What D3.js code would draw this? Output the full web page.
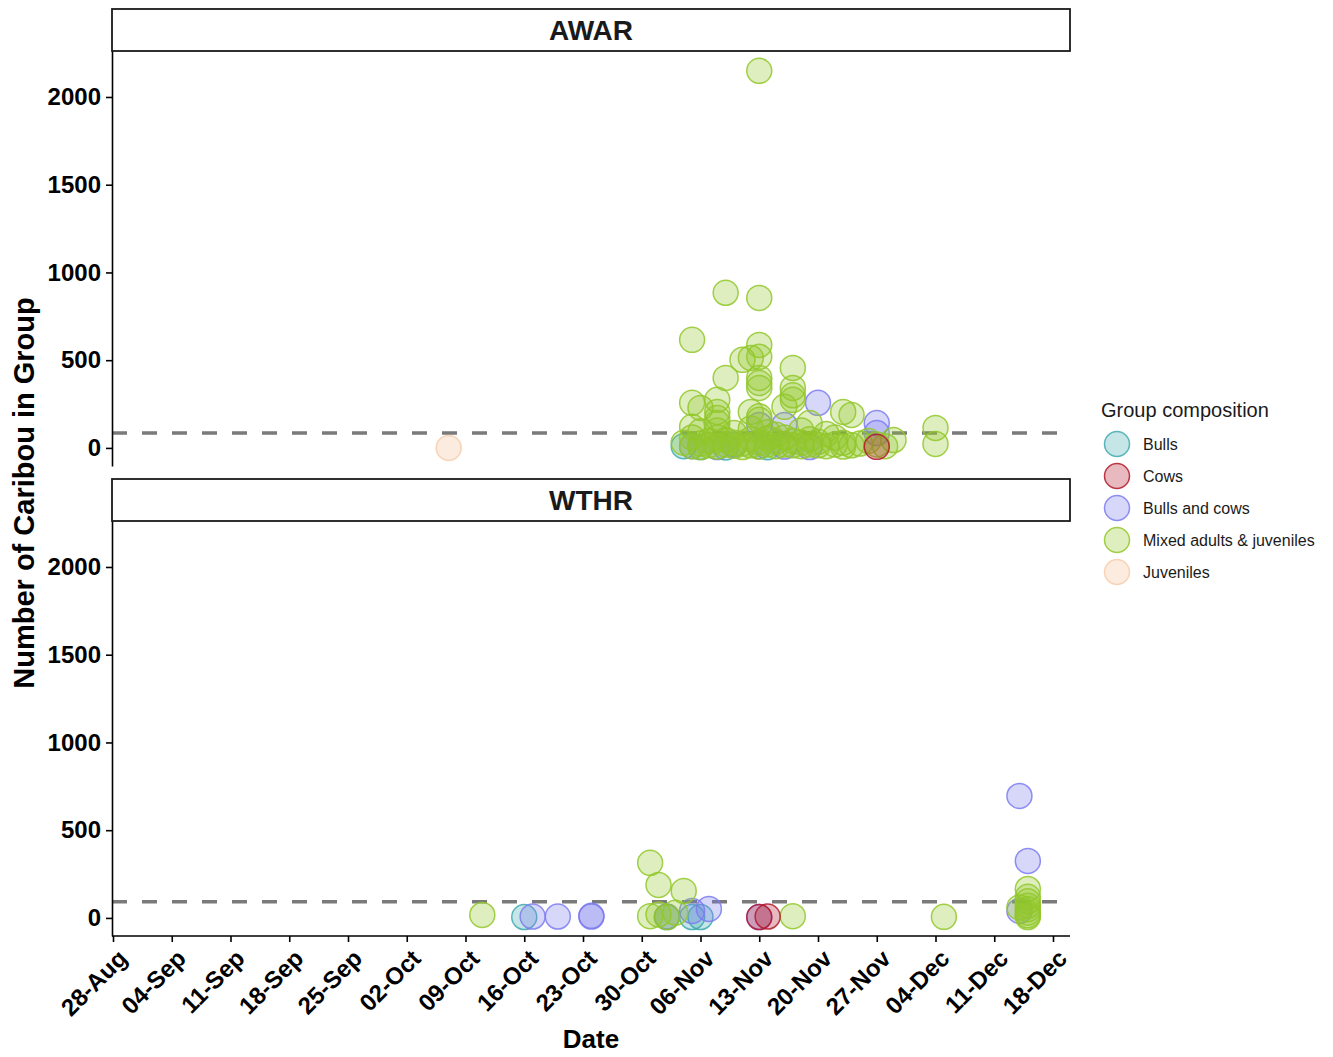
<!DOCTYPE html>
<html>
<head>
<meta charset="utf-8">
<script src="https://cdn.jsdelivr.net/npm/d3@7"></script>
<style>
  body { margin: 0; background: #fff; }
  text { font-family: "Liberation Sans", Arial, sans-serif; }
</style>
</head>
<body>
<div id="wrapper"></div>
<script>
/* global d3 */

// group names + colours (legend order)
const groupNames = ["Bulls", "Cows", "Bulls and cows", "Mixed adults & juveniles", "Juveniles"]
const groupColors = ["#3FA9B0", "#B2182B", "#7B7BF0", "#92C82A", "#F2B27E"]

const panelNames = ["AWAR", "WTHR"]
const thresholds = [85, 92]

const tickDates = ["08-28", "09-04", "09-11", "09-18", "09-25", "10-02", "10-09", "10-16",
  "10-23", "10-30", "11-06", "11-13", "11-20", "11-27", "12-04", "12-11", "12-18"]
const yTicks = [0, 500, 1000, 1500, 2000]

// [date, number of caribou] per group
const awarMixed = [
  ["11-05", 616], ["11-05", 257], ["11-06", 228], ["11-05", 120], ["11-08", 274], ["11-08", 205],
  ["11-08", 170], ["11-08", 142], ["11-09", 884], ["11-09", 399], ["11-11", 502], ["11-12", 513],
  ["11-12", 205], ["11-13", 519], ["11-13", 855], ["11-13", 587], ["11-13", 399], ["11-13", 370],
  ["11-13", 342], ["11-13", 2149], ["11-13", 180], ["11-13", 160], ["11-16", 234], ["11-17", 456],
  ["11-17", 342], ["11-17", 300], ["11-17", 274], ["11-19", 142], ["11-23", 205], ["11-24", 188],
  ["11-29", 45], ["12-04", 114], ["12-04", 23],
  ["11-04", 30], ["11-05", 60], ["11-05", 10], ["11-06", 25], ["11-06", 5], ["11-07", 15],
  ["11-07", 40], ["11-08", 60], ["11-08", 8], ["11-09", 20], ["11-09", 45], ["11-10", 12],
  ["11-10", 30], ["11-11", 5], ["11-11", 25], ["11-12", 15], ["11-12", 50], ["11-13", 30],
  ["11-13", 8], ["11-14", 20], ["11-14", 55], ["11-15", 10], ["11-15", 35], ["11-16", 20],
  ["11-16", 60], ["11-17", 15], ["11-17", 40], ["11-18", 10], ["11-18", 30], ["11-19", 20],
  ["11-19", 50], ["11-20", 15], ["11-20", 35], ["11-21", 10], ["11-22", 20], ["11-23", 30],
  ["11-23", 8], ["11-24", 15], ["11-26", 40], ["11-27", 20], ["11-28", 10],
  ["11-06", 95], ["11-08", 100], ["11-10", 85], ["11-12", 110], ["11-14", 90], ["11-15", 75],
  ["11-18", 100], ["11-21", 80], ["11-22", 60], ["11-25", 25]
]
const awarBulls = [["11-04", 10], ["11-06", 5], ["11-09", 3], ["11-14", 4]]
const awarBullsCows = [
  ["11-20", 257], ["11-27", 142], ["11-27", 85], ["11-13", 131], ["11-16", 131],
  ["11-05", 10], ["11-08", 5], ["11-13", 10], ["11-16", 8], ["11-19", 5], ["11-10", 20]
]
const awarCows = [["11-27", 6]]
const awarJuveniles = [["10-07", 0]]

const wthrMixed = [
  ["10-11", 17], ["10-31", 314], ["11-01", 188], ["11-04", 154], ["10-31", 10], ["11-01", 20],
  ["11-02", 5], ["11-03", 30], ["11-17", 10], ["12-05", 6], ["12-15", 165], ["12-15", 120],
  ["12-15", 95], ["12-15", 70], ["12-15", 50], ["12-15", 30], ["12-15", 15], ["12-15", 5],
  ["12-14", 60]
]
const wthrBulls = [["10-16", 5], ["11-02", 5], ["11-05", 5], ["11-06", 5]]
const wthrBullsCows = [
  ["10-17", 8], ["10-20", 8], ["10-24", 8], ["10-24", 12], ["11-02", 8], ["11-05", 40],
  ["11-07", 51], ["11-13", 5], ["12-14", 695], ["12-15", 325], ["12-14", 40]
]
const wthrCows = [["11-13", 5], ["11-14", 8]]
const wthrJuveniles = []

function drawChart() {
  const parseDay = s => d3.timeParse("%Y-%m-%d")("2021-" + s)

  const panels = [
    [awarBulls, awarCows, awarBullsCows, awarMixed, awarJuveniles],
    [wthrBulls, wthrCows, wthrBullsCows, wthrMixed, wthrJuveniles],
  ]
  // drawing order: bulls / mixed herds underneath, cows on top
  const drawOrder = [0, 2, 3, 4, 1]

  let dimensions = {
    width: 1333,
    height: 1057,
    panelLeft: 112,
    panelRight: 1070,
    stripHeight: 42,
    panelHeight: 415,
    panelTops: [51, 521],
  }

  const wrapper = d3.select("#wrapper")
    .append("svg")
      .attr("width", dimensions.width)
      .attr("height", dimensions.height)

  const xScale = d3.scaleTime()
    .domain([parseDay("08-28"), parseDay("12-18")])
    .range([113, 1053])

  panels.forEach((groups, p) => {
    const top = dimensions.panelTops[p]
    const bottom = top + dimensions.panelHeight
    const yScale = d3.scaleLinear()
      .domain([-103, 2262])
      .range([bottom, top])

    // strip
    wrapper.append("rect")
        .attr("x", dimensions.panelLeft)
        .attr("y", top - dimensions.stripHeight)
        .attr("width", dimensions.panelRight - dimensions.panelLeft)
        .attr("height", dimensions.stripHeight)
        .attr("fill", "#fff")
        .attr("stroke", "#1a1a1a")
        .attr("stroke-width", 1.8)
    wrapper.append("text")
        .attr("x", (dimensions.panelLeft + dimensions.panelRight) / 2)
        .attr("y", top - dimensions.stripHeight / 2)
        .attr("dy", "0.36em")
        .attr("text-anchor", "middle")
        .style("font-size", "28px")
        .style("font-weight", "bold")
        .attr("fill", "#1a1a1a")
        .text(panelNames[p])

    // threshold line
    wrapper.append("line")
        .attr("x1", dimensions.panelLeft)
        .attr("x2", dimensions.panelRight)
        .attr("y1", yScale(thresholds[p]))
        .attr("y2", yScale(thresholds[p]))
        .attr("stroke", "#7a7a7a")
        .attr("stroke-width", 3.5)
        .attr("stroke-dasharray", "15,15")

    // points
    drawOrder.forEach(g => {
      wrapper.append("g")
        .selectAll("circle")
        .data(groups[g])
        .join("circle")
          .attr("cx", d => xScale(parseDay(d[0])))
          .attr("cy", d => yScale(d[1]))
          .attr("r", 12.5)
          .attr("fill", groupColors[g])
          .attr("fill-opacity", g == 4 ? 0.25 : 0.3)
          .attr("stroke", groupColors[g])
          .attr("stroke-opacity", g == 4 ? 0.5 : 0.85)
          .attr("stroke-width", 1.5)
    })

    // y axis
    const yAxis = wrapper.append("g")
        .attr("transform", `translate(${dimensions.panelLeft},0)`)
        .call(d3.axisLeft(yScale)
          .tickValues(yTicks)
          .tickFormat(d3.format("d"))
          .tickSize(6)
          .tickSizeOuter(0)
          .tickPadding(5))
    yAxis.select(".domain").attr("stroke", "#000").attr("stroke-width", 1.6)
    yAxis.selectAll(".tick line").attr("stroke", "#000").attr("stroke-width", 1.6)
    yAxis.selectAll(".tick text")
        .attr("fill", "#000")
        .style("font-size", "24px")
        .style("font-weight", "bold")
  })

  // x axis (bottom panel only)
  const axisY = dimensions.panelTops[1] + dimensions.panelHeight
  const xAxis = wrapper.append("g")
      .attr("transform", `translate(0,${axisY})`)
      .call(d3.axisBottom(xScale)
        .tickValues(tickDates.map(parseDay))
        .tickFormat(d3.timeFormat("%d-%b"))
        .tickSize(6)
        .tickSizeOuter(0))
  xAxis.select(".domain").remove()
  xAxis.selectAll(".tick line").attr("stroke", "#000").attr("stroke-width", 1.6)
  xAxis.selectAll(".tick text")
      .attr("x", 0)
      .attr("y", 0)
      .attr("dy", 0)
      .attr("text-anchor", "end")
      .attr("transform", "translate(15,24) rotate(-45)")
      .attr("fill", "#000")
      .style("font-size", "24px")
      .style("font-weight", "bold")
  wrapper.append("line")
      .attr("x1", dimensions.panelLeft)
      .attr("x2", dimensions.panelRight)
      .attr("y1", axisY)
      .attr("y2", axisY)
      .attr("stroke", "#000")
      .attr("stroke-width", 1.6)

  // axis titles
  wrapper.append("text")
      .attr("x", (dimensions.panelLeft + dimensions.panelRight) / 2)
      .attr("y", 1048)
      .attr("text-anchor", "middle")
      .style("font-size", "26px")
      .style("font-weight", "bold")
      .text("Date")
  wrapper.append("text")
      .attr("transform", "translate(34,493) rotate(-90)")
      .attr("text-anchor", "middle")
      .style("font-size", "29px")
      .style("font-weight", "bold")
      .text("Number of Caribou in Group")

  // legend
  const legend = wrapper.append("g")
  legend.append("text")
      .attr("x", 1101)
      .attr("y", 417)
      .style("font-size", "20px")
      .attr("fill", "#1a1a1a")
      .text("Group composition")
  const items = legend.selectAll(".item")
    .data(groupNames)
    .join("g")
      .attr("transform", (d, i) => `translate(1117,${444 + i * 32})`)
  items.append("circle")
      .attr("r", 12.5)
      .attr("fill", (d, i) => groupColors[i])
      .attr("fill-opacity", (d, i) => i == 4 ? 0.25 : 0.3)
      .attr("stroke", (d, i) => groupColors[i])
      .attr("stroke-opacity", (d, i) => i == 4 ? 0.5 : 0.85)
      .attr("stroke-width", 1.5)
  items.append("text")
      .attr("x", 26)
      .attr("dy", "0.36em")
      .style("font-size", "16px")
      .attr("fill", "#1a1a1a")
      .text(d => d)
}

drawChart()
</script>
</body>
</html>
